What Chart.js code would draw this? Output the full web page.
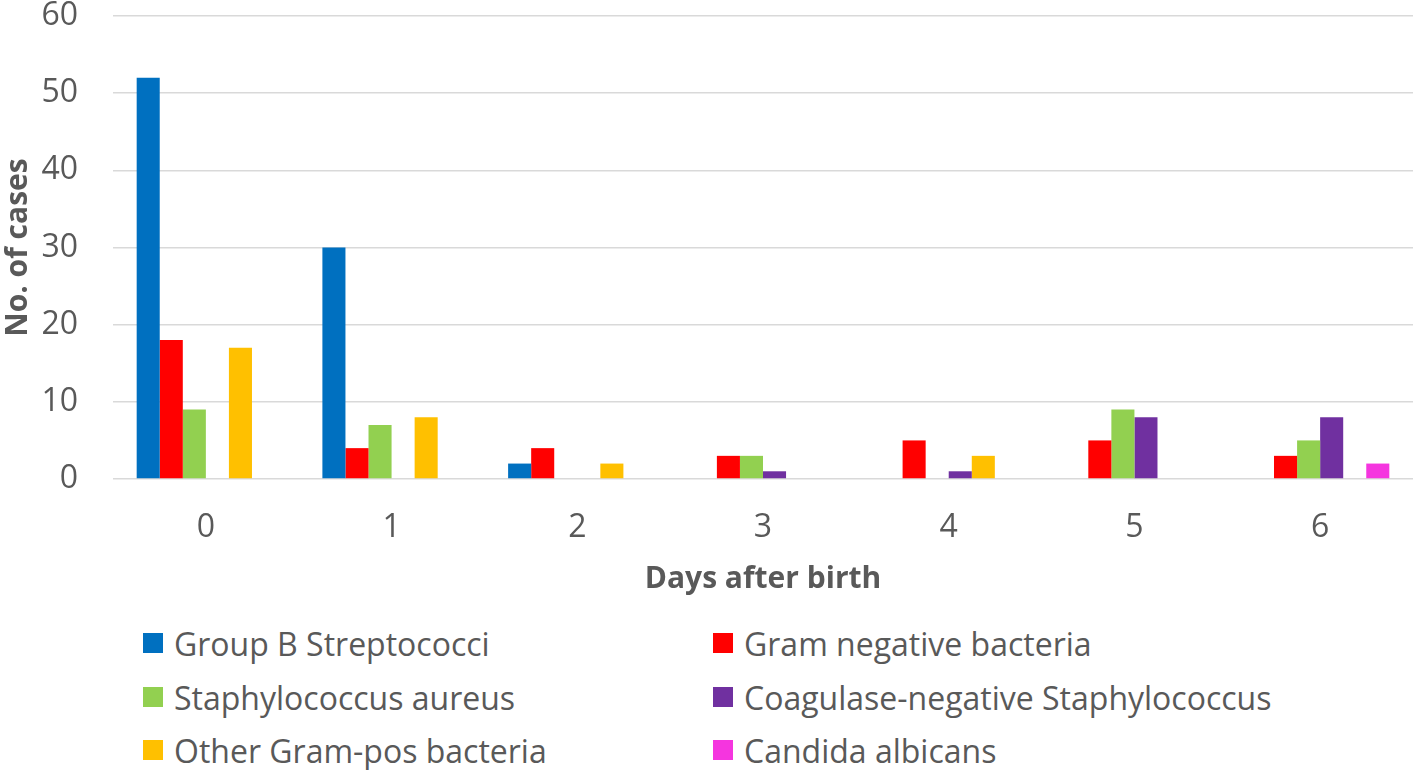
<!DOCTYPE html>
<html>
<head>
<meta charset="utf-8">
<script src="https://cdn.jsdelivr.net/npm/chart.js@4/dist/chart.umd.min.js"></script>
<style>
  html, body { margin: 0; padding: 0; background: #fff; overflow: hidden; }
  #wrap { position: relative; width: 1418px; height: 605px; }
  #legend { position: relative; width: 1418px; height: 165px; font-family: "Open Sans", sans-serif; font-size: 32px; color: #595959; }
  .item { position: absolute; display: flex; align-items: center; white-space: nowrap; }
  .box { width: 20px; height: 20px; margin-right: 11px; flex: none; }
</style>
</head>
<body>
<div id="wrap"><canvas id="c" width="1418" height="605"></canvas></div>
<div id="legend"></div>
<script>
const categories = ["0", "1", "2", "3", "4", "5", "6"];
const seriesNames = ["Group B Streptococci", "Gram negative bacteria", "Staphylococcus aureus", "Coagulase-negative Staphylococcus", "Other Gram-pos bacteria", "Candida albicans"];
const groupB = [52, 30, 2, 0, 0, 0, 0];
const gramNeg = [18, 4, 4, 3, 5, 5, 3];
const staphAureus = [9, 7, 0, 3, 0, 9, 5];
const coNS = [0, 0, 0, 1, 1, 8, 8];
const otherGramPos = [17, 8, 2, 0, 3, 0, 0];
const candida = [0, 0, 0, 0, 0, 0, 2];
const yTicks = [0, 10, 20, 30, 40, 50, 60];
const colors = ["#0070C0", "#FF0000", "#92D050", "#7030A0", "#FFC000", "#F535DF"];

const values = [groupB, gramNeg, staphAureus, coNS, otherGramPos, candida];
const datasets = values.map((v, i) => ({
  label: seriesNames[i],
  data: v,
  backgroundColor: colors[i],
  borderWidth: 0,
  categoryPercentage: 0.745,
  barPercentage: 1.0
}));

new Chart(document.getElementById('c'), {
  type: 'bar',
  data: { labels: categories, datasets },
  options: {
    responsive: false,
    animation: false,
    layout: { padding: { top: 0, right: 5, left: 0, bottom: 0 } },
    plugins: { legend: { display: false }, tooltip: { enabled: false } },
    scales: {
      x: {
        afterFit: (s) => { s.height = 126; },
        grid: { display: false, drawTicks: false },
        border: { display: false },
        ticks: { color: '#595959', font: { family: 'Open Sans', size: 32 }, padding: 30 },
        title: { display: true, text: 'Days after birth', color: '#595959', font: { family: 'Open Sans', size: 30, weight: 'bold' }, padding: { top: 0, bottom: 8 } }
      },
      y: {
        min: 0, max: 60,
        afterBuildTicks: (s) => { s.ticks = yTicks.map(v => ({ value: v })); },
        afterFit: (s) => { s.width = 113; s.paddingTop = 16; s.paddingBottom = 0; },
        grid: { color: '#D9D9D9', lineWidth: 1.5, drawTicks: false },
        border: { display: false },
        ticks: { color: '#595959', font: { family: 'Open Sans', size: 32 }, padding: 35 },
        title: { display: true, text: 'No. of cases', color: '#595959', font: { family: 'Open Sans', size: 30, weight: 'bold' }, padding: { top: 0, bottom: 0 } }
      }
    }
  }
});

const legend = document.getElementById('legend');
const cols = [143, 713];
const rows = [38, 92, 145];
seriesNames.forEach((name, i) => {
  const d = document.createElement('div');
  d.className = 'item';
  d.style.left = cols[i % 2] + 'px';
  d.style.top = (rows[Math.floor(i / 2)] - 22) + 'px';
  d.style.height = '44px';
  const b = document.createElement('span');
  b.className = 'box';
  b.style.background = colors[i];
  const t = document.createElement('span');
  t.textContent = name;
  d.appendChild(b); d.appendChild(t);
  legend.appendChild(d);
});
</script>
</body>
</html>
